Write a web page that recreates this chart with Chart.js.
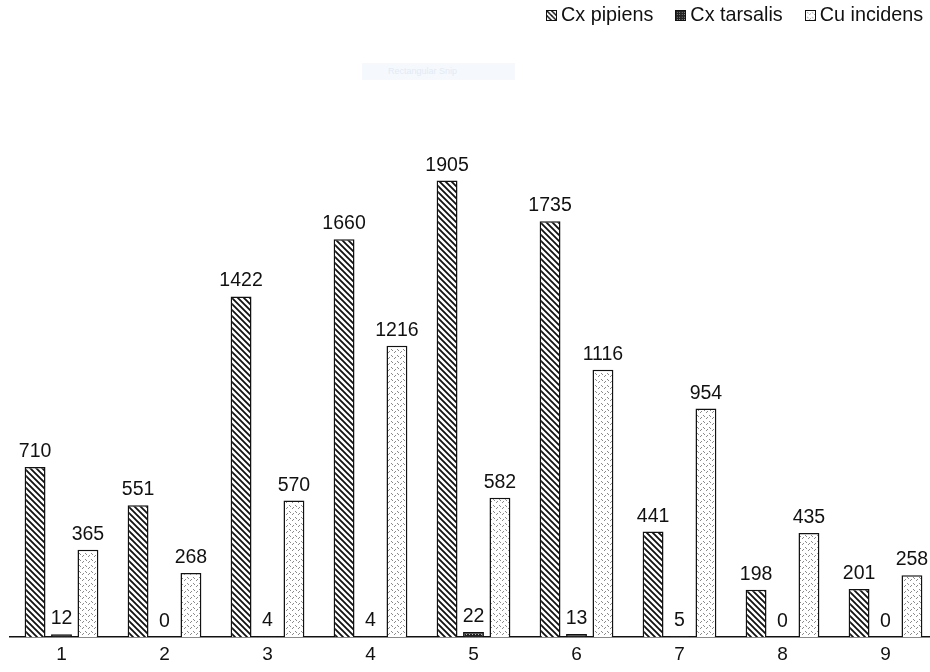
<!DOCTYPE html>
<html>
<head>
<meta charset="utf-8">
<script src="https://cdn.jsdelivr.net/npm/chart.js@4.4.0/dist/chart.umd.min.js"></script>
<style>
  body { margin: 0; background: #fff; overflow: hidden; width: 930px; height: 672px; position: relative; font-family: "Liberation Sans", Arial, sans-serif; }
  #wrap { position: absolute; left: 0; top: 0; width: 938px; height: 672px; }
  #leyenda { position: absolute; top: 3px; left: 546px; font-size: 19.8px; color: #111; white-space: nowrap; }
  #leyenda span.item { display: inline-block; margin-right: 22px; }
  #leyenda canvas { width: 11px; height: 11px; border: 1px solid #111; box-sizing: border-box; margin-right: 4px; vertical-align: 0px; }
  #snip { position: absolute; left: 362px; top: 63px; width: 153px; height: 17px; background: #f5f9fe; color: #e3eaf4; font-size: 9px; line-height: 17px; padding-left: 26px; box-sizing: border-box; }
</style>
</head>
<body>
<div id="wrap"><canvas id="grafico"></canvas></div>
<div id="snip">Rectangular Snip</div>
<div id="leyenda"></div>
<script>
// datos
const categorias = ['1', '2', '3', '4', '5', '6', '7', '8', '9'];
const cxPipiens = [710, 551, 1422, 1660, 1905, 1735, 441, 198, 201];
const cxTarsalis = [12, 0, 4, 4, 22, 13, 5, 0, 0];
const cuIncidens = [365, 268, 570, 1216, 582, 1116, 954, 435, 258];
const nombres = ['Cx pipiens', 'Cx tarsalis', 'Cu incidens'];

// patrones de relleno
function patronRayas() {
  const c = document.createElement('canvas');
  c.width = 6; c.height = 6;
  const g = c.getContext('2d');
  g.fillStyle = '#fff';
  g.fillRect(0, 0, 6, 6);
  g.strokeStyle = '#111';
  g.lineWidth = 1.8;
  g.beginPath();
  g.moveTo(-1, -1); g.lineTo(7, 7);
  g.moveTo(-4, 2); g.lineTo(4, 10);
  g.moveTo(2, -4); g.lineTo(10, 4);
  g.stroke();
  return c;
}

function patronOscuro() {
  const c = document.createElement('canvas');
  c.width = 3; c.height = 3;
  const g = c.getContext('2d');
  g.fillStyle = '#222';
  g.fillRect(0, 0, 3, 3);
  g.fillStyle = '#bbb';
  g.fillRect(1, 1, 1, 1);
  return c;
}

function patronPuntos() {
  const c = document.createElement('canvas');
  c.width = 6; c.height = 6;
  const g = c.getContext('2d');
  g.fillStyle = '#fff';
  g.fillRect(0, 0, 6, 6);
  g.fillStyle = '#8a8a8a';
  g.fillRect(1, 1, 1, 1);
  g.fillRect(2, 2, 1, 1);
  g.fillRect(4, 4, 1, 1);
  g.fillRect(5, 3, 1, 1);
  return c;
}

const tiles = [patronRayas(), patronOscuro(), patronPuntos()];
const ctx = document.getElementById('grafico').getContext('2d');
const patrones = tiles.map(t => ctx.createPattern(t, 'repeat'));

// leyenda en html
const leyenda = document.getElementById('leyenda');
for (let i = 0; i < nombres.length; i++) {
  const item = document.createElement('span');
  item.className = 'item';
  const caja = document.createElement('canvas');
  caja.width = 11; caja.height = 11;
  const cg = caja.getContext('2d');
  cg.fillStyle = cg.createPattern(tiles[i], 'repeat');
  cg.fillRect(0, 0, 11, 11);
  item.appendChild(caja);
  item.appendChild(document.createTextNode(nombres[i]));
  leyenda.appendChild(item);
}

// etiquetas encima de cada barra
const etiquetas = {
  id: 'etiquetas',
  afterDatasetsDraw(chart) {
    const c = chart.ctx;
    c.save();
    c.font = '19.5px "Liberation Sans", Arial, sans-serif';
    c.fillStyle = '#111';
    c.textAlign = 'center';
    c.textBaseline = 'alphabetic';
    chart.data.datasets.forEach((ds, i) => {
      chart.getDatasetMeta(i).data.forEach((barra, j) => {
        c.fillText(String(ds.data[j]), barra.x, barra.y - 10);
      });
    });
    c.restore();
  }
};

new Chart(ctx, {
  type: 'bar',
  data: {
    labels: categorias,
    datasets: [
      { label: nombres[0], data: cxPipiens, backgroundColor: patrones[0], borderColor: '#111', borderWidth: 1.5 },
      { label: nombres[1], data: cxTarsalis, backgroundColor: patrones[1], borderColor: '#111', borderWidth: 1.5 },
      { label: nombres[2], data: cuIncidens, backgroundColor: patrones[2], borderColor: '#111', borderWidth: 1.5 }
    ]
  },
  options: {
    responsive: true,
    maintainAspectRatio: false,
    animation: false,
    datasets: { bar: { categoryPercentage: 0.77, barPercentage: 0.79 } },
    layout: { padding: { top: 38, left: 10, right: 1, bottom: 0 } },
    plugins: {
      legend: { display: false },
      tooltip: { enabled: false }
    },
    scales: {
      x: {
        grid: { display: false, drawTicks: false },
        border: { display: true, color: '#111', width: 1.5 },
        ticks: { color: '#111', padding: 6, font: { size: 19, family: '"Liberation Sans", Arial, sans-serif' } }
      },
      y: {
        display: false,
        min: 0,
        max: 2500
      }
    }
  },
  plugins: [etiquetas]
});
</script>
</body>
</html>
